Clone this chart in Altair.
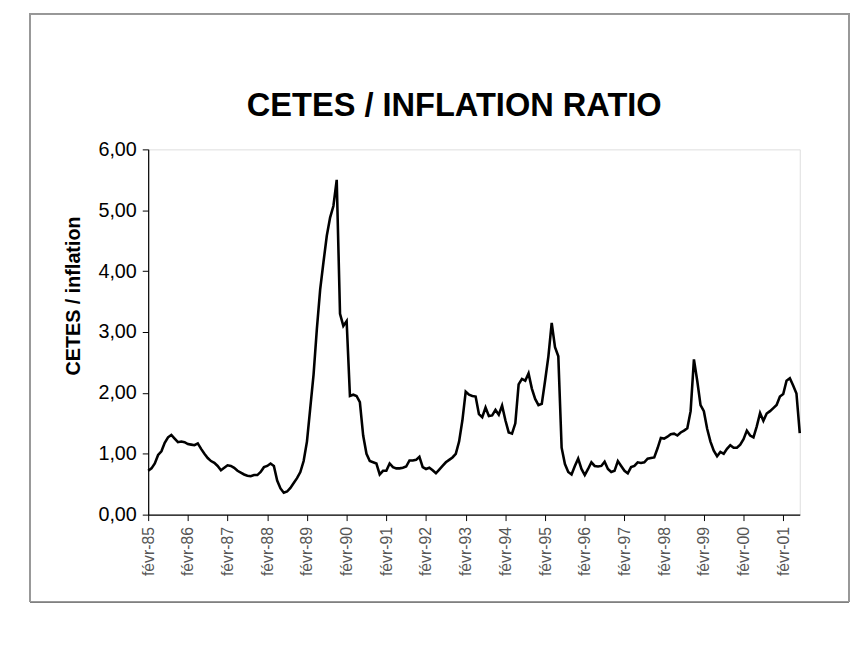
import altair as alt
import pandas as pd

# CETES / inflation ratio, monthly, each list runs from February to the following January
r85 = [0.72, 0.76, 0.84, 0.98, 1.04, 1.18, 1.27, 1.31, 1.25, 1.19, 1.20, 1.19]
r86 = [1.16, 1.15, 1.14, 1.17, 1.08, 1.00, 0.93, 0.88, 0.85, 0.80, 0.73, 0.77]
r87 = [0.81, 0.80, 0.77, 0.72, 0.69, 0.66, 0.64, 0.63, 0.65, 0.65, 0.70, 0.78]
r88 = [0.80, 0.84, 0.80, 0.56, 0.43, 0.36, 0.38, 0.44, 0.52, 0.60, 0.70, 0.88]
r89 = [1.20, 1.75, 2.30, 3.05, 3.70, 4.15, 4.58, 4.88, 5.07, 5.50, 3.30, 3.10]
r90 = [3.18, 1.95, 1.97, 1.95, 1.85, 1.30, 1.00, 0.88, 0.86, 0.84, 0.66, 0.72]
r91 = [0.72, 0.84, 0.78, 0.76, 0.76, 0.77, 0.79, 0.89, 0.89, 0.90, 0.95, 0.78]
r92 = [0.75, 0.77, 0.73, 0.68, 0.74, 0.80, 0.86, 0.90, 0.94, 1.00, 1.20, 1.55]
r93 = [2.02, 1.97, 1.95, 1.94, 1.65, 1.60, 1.76, 1.62, 1.63, 1.72, 1.64, 1.79]
r94 = [1.55, 1.35, 1.33, 1.50, 2.14, 2.23, 2.20, 2.32, 2.07, 1.90, 1.80, 1.82]
r95 = [2.20, 2.60, 3.15, 2.75, 2.60, 1.10, 0.83, 0.70, 0.66, 0.80, 0.92, 0.75]
r96 = [0.65, 0.75, 0.86, 0.80, 0.79, 0.80, 0.87, 0.75, 0.70, 0.72, 0.88, 0.80]
r97 = [0.72, 0.68, 0.78, 0.80, 0.86, 0.85, 0.86, 0.92, 0.93, 0.94, 1.09, 1.26]
r98 = [1.25, 1.28, 1.32, 1.33, 1.30, 1.35, 1.38, 1.42, 1.70, 2.55, 2.20, 1.80]
r99 = [1.70, 1.41, 1.20, 1.05, 0.96, 1.03, 1.00, 1.08, 1.14, 1.10, 1.10, 1.15]
r00 = [1.24, 1.38, 1.30, 1.27, 1.45, 1.67, 1.54, 1.66, 1.70, 1.75, 1.80, 1.94]
r01 = [1.98, 2.20, 2.24, 2.12, 1.99, 1.34]

month_names = ["févr", "mars", "avr", "mai", "juin", "juil",
               "août", "sept", "oct", "nov", "déc", "janv"]
start_years = list(range(1985, 2002))
tick_labels = ["févr-%02d" % (y % 100) for y in start_years]
y_ticks = [0, 1, 2, 3, 4, 5, 6]

series = [r85, r86, r87, r88, r89, r90, r91, r92, r93, r94, r95, r96,
          r97, r98, r99, r00, r01]
rows = []
for y, vals in zip(start_years, series):
    for i, v in enumerate(vals):
        yy = y if i < 11 else y + 1
        rows.append({"month": "%s-%02d" % (month_names[i], yy % 100), "ratio": v})
df = pd.DataFrame(rows)

W, H = 660, 370

line = alt.Chart(df).mark_line(color="black", strokeWidth=2.6).encode(
    x=alt.X("month:O", sort=None,
            scale=alt.Scale(type="point", padding=0),
            axis=alt.Axis(values=tick_labels, title=None, labelAngle=270,
                          labelFont="Liberation Sans", labelFontSize=16,
                          labelColor="#555", labelPadding=6,
                          tickSize=6, tickColor="black", domainColor="black",
                          domainWidth=1.2)),
    y=alt.Y("ratio:Q",
            scale=alt.Scale(domain=[0, 6], nice=False),
            axis=alt.Axis(values=y_ticks,
                          labelExpr="replace(format(datum.value, '.2f'), '.', ',')",
                          labelFont="Liberation Sans", labelFontSize=20,
                          labelColor="black", labelPadding=6,
                          tickSize=6, tickColor="black", domainColor="black",
                          domainWidth=1.2, grid=False,
                          title="CETES / inflation", titleFont="Liberation Sans",
                          titleFontSize=20, titleFontWeight="bold",
                          titleColor="black", titleX=-66, titleY=148)),
)

frame = alt.Chart(df).mark_rect(fill=None, stroke="#999", strokeWidth=1).encode(
    x=alt.value(-120), x2=alt.value(710), y=alt.value(-137), y2=alt.value(458)
)

chart = alt.layer(frame, line).properties(
    width=W, height=H,
    title=alt.TitleParams("CETES / INFLATION RATIO", font="Liberation Sans",
                          fontSize=33, fontWeight="bold", color="black",
                          anchor="middle", dx=-20, offset=-111),
    autosize=alt.AutoSizeParams(type="none"),
    padding={"left": 142, "top": 139, "right": 60, "bottom": 140},
).configure_view(stroke=None).configure(background="white")

chart.save("out.html", embed_options={"renderer": "svg", "actions": False})
